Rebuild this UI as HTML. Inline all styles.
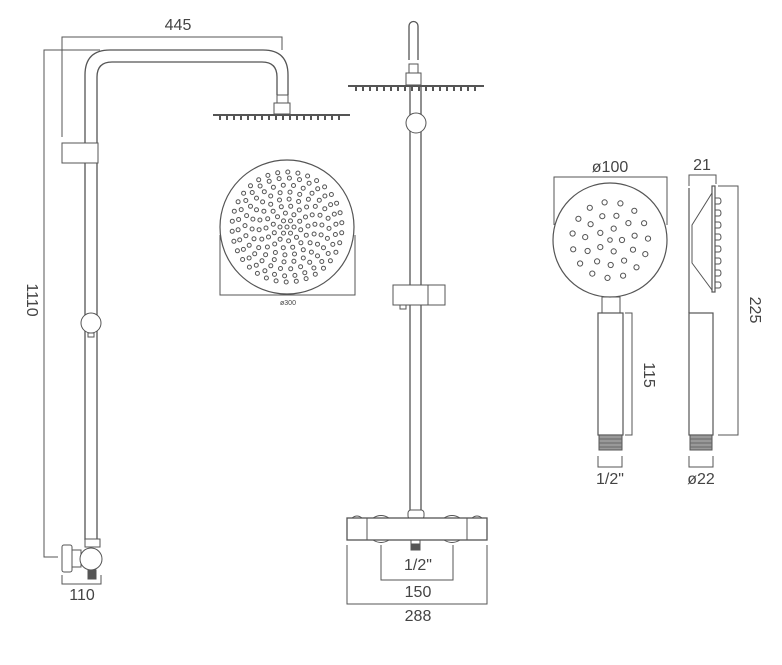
<!DOCTYPE html>
<html><head><meta charset="utf-8"><style>
html,body{margin:0;padding:0;background:#fff;}
svg{display:block;}
text{font-family:"Liberation Sans Narrow","Liberation Sans",sans-serif;fill:#444;}
</style></head><body>
<svg id="s" width="782" height="665" viewBox="0 0 782 665" xmlns="http://www.w3.org/2000/svg">
<g fill="none" stroke="#555" stroke-width="1">
<polyline points="62,137 62,37 282,37 282,50"/>
<polyline points="100,50 44,50 44,557 58,557"/>
<path d="M85,540 V75 Q85,50 110,50 H263 Q288,50 288,75 V95" stroke-width="1.3"/>
<path d="M97,540 V77 Q97,62 112,62 H262 Q277,62 277,77 V95" stroke-width="1.3"/>
<rect x="277" y="95" width="11" height="8"/>
<rect x="274" y="103" width="16" height="11"/>
<line x1="213" y1="115" x2="350" y2="115" stroke-width="2"/>
<rect x="62" y="143" width="36" height="20" fill="#fff"/>
<circle cx="91" cy="323" r="10" fill="#fff"/>
<rect x="88" y="333" width="6" height="4"/>
<rect x="85" y="539" width="15" height="8" fill="#fff"/>
<rect x="62" y="545" width="10" height="27" rx="2" fill="#fff"/>
<rect x="72" y="550" width="9" height="17" fill="#fff"/>
<circle cx="91" cy="559" r="11" fill="#fff"/>
<rect x="88" y="570" width="8" height="9" fill="#555"/>
<polyline points="62,575 62,584 101,584 101,575"/>
<circle cx="287" cy="227" r="67" stroke-width="1.2"/>
<polyline points="220,235 220,295 355,295 355,235"/>
<path d="M409,60 V26 A4.5,4.5 0 0 1 418,26 V60" stroke-width="1.3"/>
<rect x="409" y="64" width="9" height="9"/>
<rect x="406" y="73" width="15" height="12"/>
<line x1="348" y1="86" x2="484" y2="86" stroke-width="2"/>
<line x1="410" y1="86" x2="410" y2="515" stroke-width="1.3"/>
<line x1="421" y1="86" x2="421" y2="515" stroke-width="1.3"/>
<circle cx="416" cy="123" r="10" fill="#fff"/>
<rect x="393" y="285" width="52" height="20" fill="#fff"/>
<line x1="428" y1="285" x2="428" y2="305"/>
<rect x="400" y="305" width="6" height="4"/>
<rect x="408" y="510" width="16" height="9" rx="3" fill="#fff"/>
<rect x="347" y="518" width="140" height="22" fill="#fff" stroke-width="1.3"/>
<line x1="367" y1="518" x2="367" y2="540"/>
<line x1="467" y1="518" x2="467" y2="540"/>
<path d="M352,518 q5,-4 10,0 M373,518 q8,-5 16,0 M444,518 q8,-5 16,0 M472,518 q5,-4 10,0"/>
<path d="M373,540 q8,5 16,0 M444,540 q8,5 16,0"/>
<rect x="411" y="540" width="9" height="4"/>
<rect x="411" y="544" width="9" height="6" fill="#555"/>
<polyline points="381,545 381,580 453,580 453,545"/>
<polyline points="347,545 347,604 487,604 487,545"/>
<circle cx="610" cy="240" r="57" stroke-width="1.2"/>
<polyline points="554,225 554,177 667,177 667,225"/>
<rect x="602" y="297" width="18" height="16"/>
<rect x="598" y="313" width="25" height="122" stroke-width="1.2"/>
<rect x="599" y="435" width="23" height="15" fill="#999" stroke="#555"/>
<polyline points="625,313 632,313 632,435 625,435"/>
<polyline points="598,456 598,467 622,467 622,456"/>
<polyline points="689,186 689,175 716,175 716,184"/>
<line x1="689" y1="188" x2="689" y2="313" stroke-width="1.2"/>
<polyline points="712,193 692,225 692,263 712,290"/>
<rect x="712" y="186" width="3" height="106" fill="#fff" stroke-width="1.2"/>
<rect x="689" y="313" width="24" height="122" stroke-width="1.2"/>
<rect x="690" y="435" width="22" height="15" fill="#999" stroke="#555"/>
<polyline points="718,186 738,186 738,435 718,435"/>
<polyline points="689,456 689,467 713,467 713,456"/>
<path d="M599,439 h23 M599,443 h23 M599,447 h23 M690,439 h22 M690,443 h22 M690,447 h22" stroke="#666"/>
</g>
<g id="dots" fill="none" stroke="#555" stroke-width="1"></g>
<text x="178" y="30" font-size="16" text-anchor="middle">445</text>
<text transform="translate(27,300) rotate(90)" font-size="16" text-anchor="middle">1110</text>
<text x="82" y="600" font-size="16" text-anchor="middle">110</text>
<text x="288" y="305" font-size="7" text-anchor="middle">ø300</text>
<text x="418" y="570" font-size="16" text-anchor="middle">1/2"</text>
<text x="418" y="597" font-size="16" text-anchor="middle">150</text>
<text x="418" y="621" font-size="16" text-anchor="middle">288</text>
<text x="610" y="172" font-size="16" text-anchor="middle">ø100</text>
<text x="702" y="170" font-size="16" text-anchor="middle">21</text>
<text transform="translate(644,375) rotate(90)" font-size="16" text-anchor="middle">115</text>
<text transform="translate(750,310) rotate(90)" font-size="16" text-anchor="middle">225</text>
<text x="610" y="484" font-size="16" text-anchor="middle">1/2"</text>
<text x="701" y="484" font-size="16" text-anchor="middle">ø22</text>
</svg>
<script>
var g=document.getElementById('dots'),h='';
function c(x,y,r){h+='<circle cx="'+x.toFixed(1)+'" cy="'+y.toFixed(1)+'" r="'+r+'"/>';}
c(287,227,2);
var rings=[[7,6],[14,10],[21,14],[28,18],[35,22],[42,26],[49,30],[55,34]];
rings.forEach(function(q,i){for(var k=0;k<q[1];k++){var a=k*2*Math.PI/q[1]+i*0.2;c(287+q[0]*Math.cos(a),227+q[0]*Math.sin(a),2);}});
var hr=[[12,5],[25,11],[38,15]];
c(610,240,2.3);
hr.forEach(function(q,i){for(var k=0;k<q[1];k++){var a=k*2*Math.PI/q[1]+i*0.4;c(610+q[0]*Math.cos(a),240+q[0]*Math.sin(a),2.6);}});
for(var x=220;x<345;x+=7)h+='<line x1="'+x+'" y1="116" x2="'+x+'" y2="120" stroke-width="2"/>';
for(var x=356;x<478;x+=7)h+='<line x1="'+x+'" y1="87" x2="'+x+'" y2="91" stroke-width="2"/>';
for(var y=198;y<285;y+=12)h+='<path d="M715,'+y+' h4 a2,3 0 0 1 0,6 h-4"/>';
g.innerHTML=h;
</script>
</body></html>
